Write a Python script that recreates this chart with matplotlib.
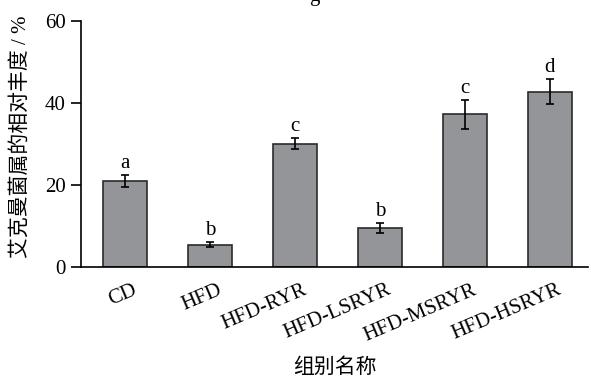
import matplotlib
matplotlib.use("Agg")
import matplotlib.pyplot as plt
import matplotlib.transforms as mtransforms
import numpy as np

groups = ["CD", "HFD", "HFD-RYR", "HFD-LSRYR", "HFD-MSRYR", "HFD-HSRYR"]
abundance = [21.0, 5.4, 30.0, 9.5, 37.2, 42.7]
sem = [1.5, 0.6, 1.3, 1.3, 3.5, 3.1]
letters = ["a", "b", "c", "b", "c", "d"]

plt.rcParams["font.family"] = ["Liberation Serif", "Noto Sans CJK SC"]

fig = plt.figure(figsize=(5.91, 3.78), dpi=100)
ax = fig.add_axes([0.137, 0.294, 0.858, 0.651])

x = np.arange(len(groups))
ax.bar(x, abundance, width=0.52, color="#939598", edgecolor="#2b2b2b", linewidth=1.2, zorder=2)
ax.errorbar(x, abundance, yerr=sem, fmt="none", ecolor="black", elinewidth=1.2,
            capsize=3, capthick=1.2, zorder=3)

for xi, v, e, s in zip(x, abundance, sem, letters):
    ax.text(xi, v + e + 0.5, s, ha="center", va="bottom", fontsize=15)

ax.set_xlim(-0.52, 5.45)
ax.set_ylim(0, 60)
ax.set_yticks([0, 20, 40, 60])
ax.tick_params(axis="y", direction="out", length=7, width=1.2, labelsize=15, pad=4)
ax.tick_params(axis="x", direction="in", length=7, width=1.2, labelsize=15, pad=10)
ax.set_xticks(x)
ax.set_xticklabels(groups, rotation=23, ha="right", rotation_mode="anchor")
shift = mtransforms.ScaledTranslation(5 / 72, 0, fig.dpi_scale_trans)
for lbl in ax.get_xticklabels():
    lbl.set_transform(lbl.get_transform() + shift)

for side in ["top", "right"]:
    ax.spines[side].set_visible(False)
for side in ["left", "bottom"]:
    ax.spines[side].set_linewidth(1.2)

ax.set_ylabel("艾克曼菌属的相对丰度 / %", fontsize=15)
ax.set_xlabel("组别名称", fontsize=15)
ax.yaxis.set_label_coords(-0.099, 0.528)
ax.xaxis.set_label_coords(0.5, -0.37)

# panel tag at the top edge
fig.text(0.532, 1.008, "g", ha="center", va="center", fontsize=15)

fig.savefig("out.png", dpi=100)
